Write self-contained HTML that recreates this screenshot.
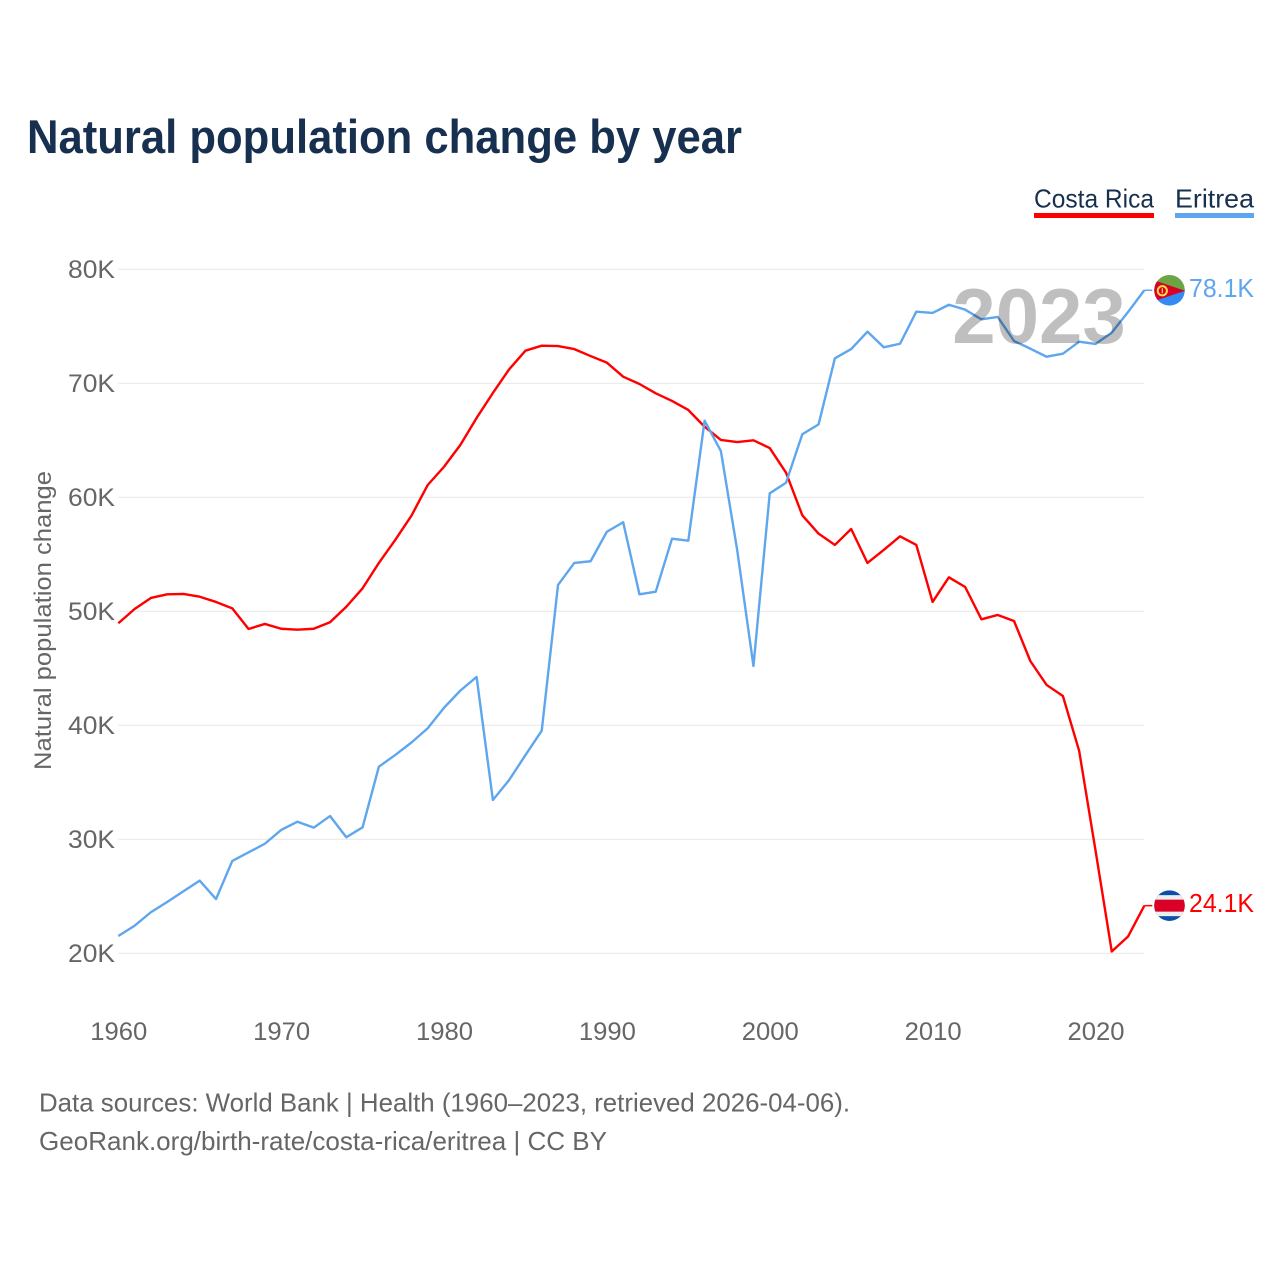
<!DOCTYPE html>
<html lang="en">
<head>
<meta charset="utf-8">
<title>Natural population change by year</title>
<style>
html,body{margin:0;padding:0;background:#fff;}
svg{display:block;font-family:"Liberation Sans",sans-serif;}
</style>
</head>
<body>
<svg id="chart" xmlns="http://www.w3.org/2000/svg" width="1280" height="1280" viewBox="0 0 1280 1280">
  <defs>
    <clipPath id="clip-er"><circle cx="1169.5" cy="0" r="15.3"/></clipPath>
    <clipPath id="clip-cr"><circle cx="1169.5" cy="0" r="15.3"/></clipPath>
  </defs>
  <rect width="1280" height="1280" fill="#fff"/>
  <text x="27" y="153" font-size="47" font-weight="700" fill="#17304f" textLength="715" lengthAdjust="spacingAndGlyphs">Natural population change by year</text>

  <g>
    <g>
      <text x="1034" y="207.5" font-size="26" fill="#17304f" textLength="120" lengthAdjust="spacingAndGlyphs">Costa Rica</text>
      <rect x="1034" y="213" width="120" height="5" fill="#ff0000"/>
    </g>
    <g>
      <text x="1175" y="207.5" font-size="26" fill="#17304f" textLength="79" lengthAdjust="spacingAndGlyphs">Eritrea</text>
      <rect x="1175" y="213" width="79" height="5" fill="#5ea6ee"/>
    </g>
  </g>

  <g id="grid"></g>
  <g id="y-axis"></g>
  <g id="x-axis"></g>
  <text transform="translate(51,620.5) rotate(-90)" text-anchor="middle" font-size="24.5" fill="#666" textLength="299" lengthAdjust="spacingAndGlyphs">Natural population change</text>

  <g id="series"></g>

  <text x="1039" y="343" text-anchor="middle" font-size="78" font-weight="700" fill="#000" fill-opacity="0.25">2023</text>

  <g id="end-markers"></g>

  <text x="39" y="1111.5" font-size="26" fill="#666" textLength="811" lengthAdjust="spacingAndGlyphs">Data sources: World Bank | Health (1960–2023, retrieved 2026-04-06).</text>
  <text x="39" y="1150" font-size="26" fill="#666" textLength="568" lengthAdjust="spacingAndGlyphs">GeoRank.org/birth-rate/costa-rica/eritrea | CC BY</text>
</svg>
<script>
const years = [1960,1961,1962,1963,1964,1965,1966,1967,1968,1969,1970,1971,1972,1973,1974,1975,1976,1977,1978,1979,1980,1981,1982,1983,1984,1985,1986,1987,1988,1989,1990,1991,1992,1993,1994,1995,1996,1997,1998,1999,2000,2001,2002,2003,2004,2005,2006,2007,2008,2009,2010,2011,2012,2013,2014,2015,2016,2017,2018,2019,2020,2021,2022,2023];
const costaRica = [48.95,50.2,51.17,51.49,51.52,51.28,50.82,50.26,48.45,48.89,
  48.47,48.39,48.47,49.04,50.4,52.02,54.24,56.25,58.39,61.08,
  62.68,64.59,66.96,69.15,71.23,72.86,73.3,73.27,73.0,72.39,
  71.81,70.58,69.94,69.12,68.45,67.66,66.19,65.03,64.85,65.0,
  64.32,62.16,58.42,56.81,55.82,57.22,54.24,55.38,56.58,55.82,
  50.82,52.98,52.13,49.3,49.68,49.15,45.64,43.54,42.57,37.75,
  29.06,20.16,21.47,24.18];
const eritrea = [21.52,22.42,23.6,24.5,25.44,26.37,24.76,28.1,28.86,29.61,
  30.82,31.54,31.02,32.04,30.18,31.05,36.37,37.39,38.49,39.74,
  41.54,43.04,44.24,33.45,35.2,37.39,39.53,52.31,54.24,54.39,
  56.98,57.81,51.49,51.72,56.37,56.19,66.72,64.06,55.38,45.2,
  60.35,61.28,65.53,66.4,72.19,73.0,74.53,73.16,73.47,76.28,
  76.17,76.89,76.46,75.61,75.82,73.71,73.04,72.33,72.6,73.65,
  73.45,74.44,76.25,78.16];
const yTicks = [20,30,40,50,60,70,80];
const yTickLabels = ["20K","30K","40K","50K","60K","70K","80K"];
const xTicks = [1960,1970,1980,1990,2000,2010,2020];
const xTickLabels = ["1960","1970","1980","1990","2000","2010","2020"];
const endLabels = ["24.1K","78.1K"];

const NS = "http://www.w3.org/2000/svg";
const xScale = function (year) { return 118.3 + (year - 1960) * 16.286; };
const yScale = function (v) { return 953.3 - (v - 20) * 11.4; };

function make(tag, attrs, parent) {
  const el = document.createElementNS(NS, tag);
  for (const k in attrs) el.setAttribute(k, attrs[k]);
  parent.appendChild(el);
  return el;
}

const grid = document.getElementById("grid");
const yAxis = document.getElementById("y-axis");
const xAxis = document.getElementById("x-axis");
const seriesGroup = document.getElementById("series");
const markers = document.getElementById("end-markers");

yTicks.forEach(function (t, i) {
  const line = make("line", {x1: 118.3, x2: 1144, y1: yScale(t), y2: yScale(t), stroke: "#e9e9e9", "stroke-width": 1.2}, grid);
  
  
  const label = make("text", {x: 115, y: yScale(t) + 8.5, "text-anchor": "end", "font-size": 25, fill: "#666", textLength: 47, lengthAdjust: "spacingAndGlyphs"}, yAxis);
  
  
  label.textContent = yTickLabels[i];
});

xTicks.forEach(function (t, i) {
  const label = make("text", {x: xScale(t) + 0.5, y: 1040, "text-anchor": "middle", "font-size": 25, fill: "#666", textLength: 57, lengthAdjust: "spacingAndGlyphs"}, xAxis);
  
  
  label.textContent = xTickLabels[i];
});

function pathFor(values) {
  return values.map(function (v, i) {
    return (i ? "L" : "M") + xScale(years[i]).toFixed(2) + " " + yScale(v).toFixed(2);
  }).join("");
}

const redLine = make("path", {d: pathFor(costaRica), fill: "none", stroke: "#ff0000", "stroke-width": 2.4, "stroke-linejoin": "round"}, seriesGroup);


const blueLine = make("path", {d: pathFor(eritrea), fill: "none", stroke: "#5ea6ee", "stroke-width": 2.4, "stroke-linejoin": "round"}, seriesGroup);



const lastYear = years[years.length - 1];
const xEnd = xScale(lastYear);

// Costa Rica end marker
const crY = yScale(costaRica[costaRica.length - 1]);
const crConn = make("line", {x1: xEnd, x2: xEnd + 8, y1: crY, y2: crY, stroke: "#ff0000", "stroke-width": 1.5}, markers);


const crFlag = make("g", {transform: "translate(0," + crY + ")", "clip-path": "url(#clip-cr)"}, markers);


make("rect", {x: 1154, y: -16, width: 31, height: 32, fill: "#0a50a8"}, crFlag);
make("rect", {x: 1154, y: -10.5, width: 31, height: 21, fill: "#eeeeee"}, crFlag);
make("rect", {x: 1154, y: -6, width: 31, height: 12, fill: "#da0027"}, crFlag);
const crLabel = make("text", {x: 1189, y: crY + 6.5, "font-size": 25.5, fill: "#ff0000", textLength: 65, lengthAdjust: "spacingAndGlyphs"}, markers);


crLabel.textContent = endLabels[0];

// Eritrea end marker
const erY = yScale(eritrea[eritrea.length - 1]);
const erConn = make("line", {x1: xEnd, x2: xEnd + 8, y1: erY, y2: erY, stroke: "#5ea6ee", "stroke-width": 1.5}, markers);


const erFlag = make("g", {transform: "translate(0," + erY + ")", "clip-path": "url(#clip-er)"}, markers);


make("rect", {x: 1154, y: -16, width: 31, height: 16.5, fill: "#6da544"}, erFlag);
make("rect", {x: 1154, y: 0, width: 31, height: 16, fill: "#338af3"}, erFlag);
make("polygon", {points: "1154,-10 1185,0.5 1154,11", fill: "#d80027"}, erFlag);
make("circle", {cx: 1162.3, cy: 0.5, r: 4.6, fill: "none", stroke: "#ffda44", "stroke-width": 2}, erFlag);
make("rect", {x: 1161.7, y: -2, width: 1.2, height: 5, fill: "#ffda44"}, erFlag);
const erLabel = make("text", {x: 1189, y: erY + 6.5, "font-size": 25.5, fill: "#5ea6ee", textLength: 65, lengthAdjust: "spacingAndGlyphs"}, markers);


erLabel.textContent = endLabels[1];
</script>
</body>
</html>
